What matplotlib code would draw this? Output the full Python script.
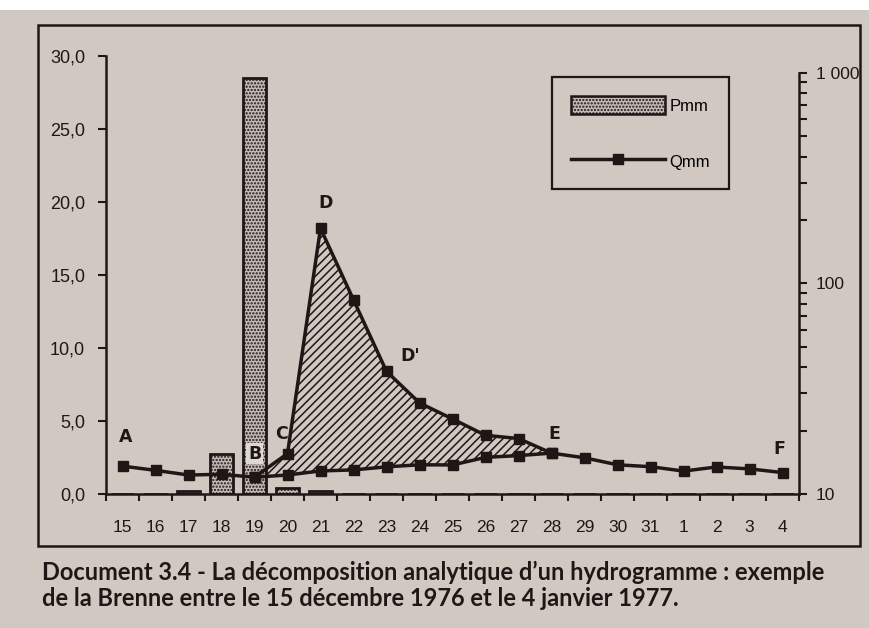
import matplotlib
matplotlib.use("Agg")
import matplotlib.pyplot as plt
from matplotlib import font_manager
from matplotlib.patches import Patch, Rectangle
from matplotlib.lines import Line2D
from matplotlib.ticker import FixedLocator, NullFormatter
import numpy as np

# ---------------- data ----------------
days = ["15", "16", "17", "18", "19", "20", "21", "22", "23", "24", "25",
        "26", "27", "28", "29", "30", "31", "1", "2", "3", "4"]
pmm = [0, 0, 0.2, 2.72, 28.5, 0.44, 0.2, 0, 0, 0, 0,
       0, 0, 0, 0, 0, 0, 0, 0, 0, 0]
qmm = [1.91, 1.62, 1.30, 1.35, 1.15, 2.77, 18.2, 13.3, 8.4, 6.24, 5.14,
       4.02, 3.80, 2.80, 2.48, 2.00, 1.87, 1.57, 1.85, 1.72, 1.47]
base_days = ["19", "20", "21", "22", "23", "24", "25", "26", "27", "28"]
base_q = [1.15, 1.30, 1.58, 1.65, 1.86, 2.00, 1.99, 2.51, 2.63, 2.80]
left_ticks = [0, 5, 10, 15, 20, 25, 30]
left_labels = ["0,0", "5,0", "10,0", "15,0", "20,0", "25,0", "30,0"]
right_ticks = [10, 100, 1000]
right_labels = ["10", "100", "1 000"]
point_labels = {"A": "15", "B": "19", "C": "20", "D": "21", "D'": "23", "E": "28", "F": "4"}
caption1 = "Document 3.4 - La décomposition analytique d’un hydrogramme : exemple"
caption2 = "de la Brenne entre le 15 décembre 1976 et le 4 janvier 1977."

# ---------------- fonts ----------------
def has_font(name):
    try:
        font_manager.findfont(font_manager.FontProperties(family=name), fallback_to_default=False)
        return True
    except Exception:
        return False

narrow = "Liberation Sans Narrow" if has_font("Liberation Sans Narrow") else "Liberation Sans"
regular = "Liberation Sans"
cap_font = "Lato" if has_font("Lato") else "DejaVu Sans"

paper = "#d2c8c2"
ink = "#1e1716"
bar_face = "#c4bdb9"

W, H = 869, 628
fig = plt.figure(figsize=(W / 100, H / 100), dpi=100, facecolor=paper)

def fx(px):
    return px / W

def fy(py):
    return 1 - py / H

# white band at the very top of the photo
fig.patches.append(Rectangle((0, fy(10)), 1, 1 - fy(10), transform=fig.transFigure,
                             facecolor="white", edgecolor="none", zorder=0))
# frame around the chart
fig.patches.append(Rectangle((fx(38), fy(546)), fx(860) - fx(38), fy(25) - fy(546),
                             transform=fig.transFigure, fill=False,
                             edgecolor=ink, linewidth=1.8, zorder=1))

ax_l, ax_r = 106, 799
ax_b, ax_t = 494, 56
ax = fig.add_axes([fx(ax_l), fy(ax_b), fx(ax_r) - fx(ax_l), fy(ax_t) - fy(ax_b)])
ax.set_facecolor("none")

x = np.arange(len(days))
xb = np.array([days.index(d) for d in base_days])

plt.rcParams["hatch.linewidth"] = 1.1

# precipitation bars
ax.bar(x, pmm, width=0.68, facecolor=bar_face, edgecolor=ink, hatch=".....",
       linewidth=2.0, zorder=2)

# hatched area between total flow and baseflow
qb_total = np.array(qmm)[xb]
ax.fill_between(xb, base_q, qb_total, facecolor="none", edgecolor=ink,
                hatch="////", linewidth=0, zorder=2.5)

# total flow and baseflow lines
ax.plot(x, qmm, color=ink, lw=2.5, marker="s", ms=6.5, zorder=4)
ax.plot(xb, base_q, color=ink, lw=2.5, marker="s", ms=6.5, zorder=4)

ax.set_xlim(-0.5, len(days) - 0.5)
ax.set_ylim(0, 30)

ax.spines["top"].set_visible(False)
ax.spines["right"].set_visible(False)
for s in ["left", "bottom"]:
    ax.spines[s].set_color(ink)
    ax.spines[s].set_linewidth(1.8)

ax.set_yticks(left_ticks)
ax.set_yticklabels(left_labels, fontfamily=regular, fontsize=13, color=ink)
ax.tick_params(axis="y", direction="out", length=6, width=1.5, color=ink, pad=9)

ax.set_xticks(x)
ax.set_xticklabels(days, fontfamily=narrow, fontsize=12.5, color=ink)
ax.xaxis.set_minor_locator(FixedLocator(np.arange(-0.5, len(days), 1.0)))
ax.tick_params(axis="x", which="major", length=0, pad=19)
ax.tick_params(axis="x", which="minor", direction="out", length=5, width=1.5, color=ink)

# right logarithmic axis
ax2 = ax.twinx()
ax2.set_yscale("log")
ax2.set_ylim(10, 1200)
for s in ["top", "left", "bottom"]:
    ax2.spines[s].set_visible(False)
ax2.spines["right"].set_bounds(10, 1000)
ax2.spines["right"].set_color(ink)
ax2.spines["right"].set_linewidth(1.8)
ax2.yaxis.set_major_locator(FixedLocator(right_ticks))
ax2.set_yticklabels(right_labels, fontfamily=narrow, fontsize=12.5, color=ink)
minors = [m * 10 ** e for e in (1, 2) for m in range(2, 10)]
ax2.yaxis.set_minor_locator(FixedLocator(minors))
ax2.yaxis.set_minor_formatter(NullFormatter())
ax2.tick_params(axis="y", which="both", direction="out", length=6, width=1.5, color=ink, pad=6)

# point labels
offsets = {"A": (2, 21), "B": (0, 17), "C": (-4, 14), "D": (4, 18),
           "D'": (17, 11), "E": (2, 14), "F": (-2, 17)}
for lab, d in point_labels.items():
    i = days.index(d)
    kw = {}
    if lab == "B":
        kw["bbox"] = dict(boxstyle="square,pad=0.1", facecolor="#ddd8d4", edgecolor="none")
    ax.annotate(lab, xy=(i, qmm[i]), xytext=offsets[lab], textcoords="offset points",
                ha="center", va="center", fontsize=12.5, fontweight="bold",
                fontfamily="DejaVu Sans", color=ink, zorder=6, **kw)

# legend
handles = [Patch(facecolor=bar_face, edgecolor=ink, hatch=".....", linewidth=1.8),
           Line2D([0], [0], color=ink, lw=2.5, marker="s", ms=6.5)]
leg = ax.legend(handles, ["Pmm", "Qmm"], loc="upper left",
                bbox_to_anchor=(fx(552), fy(77)), bbox_transform=fig.transFigure,
                prop=font_manager.FontProperties(family=regular, size=12),
                handlelength=5.6, handleheight=1.25, labelspacing=2.3,
                handletextpad=0.3, borderpad=1.15, borderaxespad=0,
                fancybox=False, framealpha=1, facecolor=paper, edgecolor=ink)
leg.get_frame().set_linewidth(1.6)
leg.set_zorder(7)

# caption
cap_target = 826 - 42
t1 = fig.text(fx(42), fy(572), caption1, fontfamily=cap_font, fontweight="bold",
              fontsize=15, color=ink, va="center", ha="left")
fig.canvas.draw()
w = t1.get_window_extent().width
fs = 15 * cap_target / w
t1.set_fontsize(fs)
fig.text(fx(42), fy(599), caption2, fontfamily=cap_font, fontweight="bold",
         fontsize=fs, color=ink, va="center", ha="left")

fig.savefig("out.png", dpi=100, facecolor=paper)
